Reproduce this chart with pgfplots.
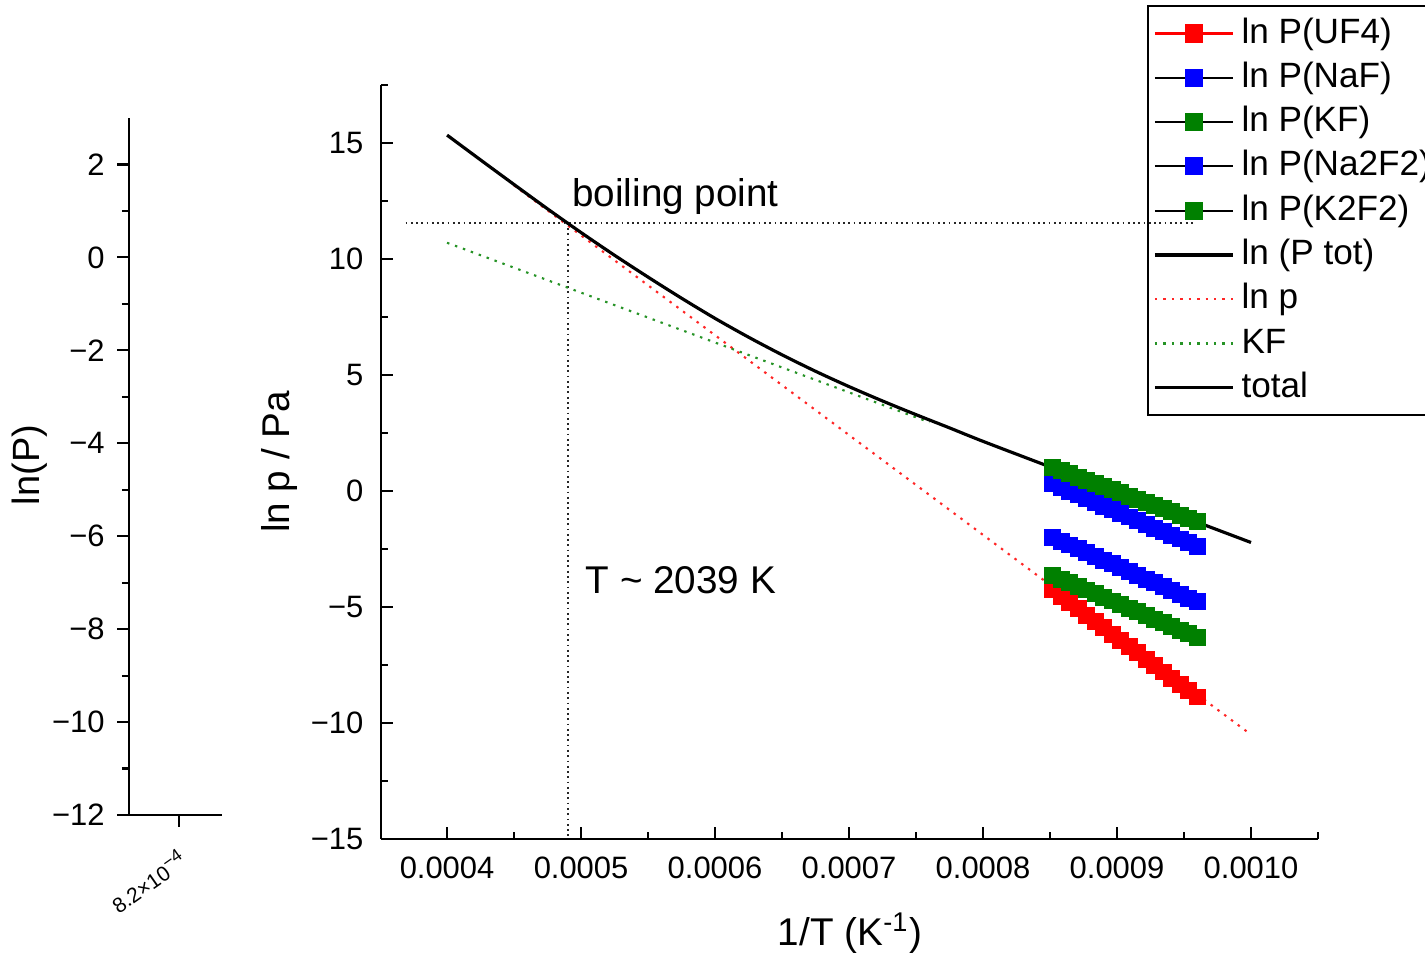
\documentclass[border=0pt]{standalone}
\usepackage{fontspec}
\setmainfont{Liberation Sans}
\usepackage{pgfplots}
\usepackage{pgfplotstable}
\pgfplotsset{compat=1.18}
\definecolor{ogreen}{RGB}{0,128,0}

\pgfplotstableread{
x uf4 naf kf na2f2 k2f2
0.0008520 -4.27 0.30 1.01 -2.00 -3.64
0.0008584 -4.54 0.14 0.87 -2.16 -3.80
0.0008647 -4.81 -0.02 0.74 -2.33 -3.95
0.0008711 -5.08 -0.17 0.60 -2.49 -4.11
0.0008774 -5.35 -0.33 0.46 -2.65 -4.27
0.0008838 -5.63 -0.49 0.33 -2.82 -4.43
0.0008901 -5.90 -0.65 0.19 -2.98 -4.58
0.0008965 -6.17 -0.81 0.05 -3.14 -4.74
0.0009028 -6.44 -0.97 -0.08 -3.31 -4.90
0.0009092 -6.71 -1.12 -0.22 -3.47 -5.05
0.0009155 -6.98 -1.28 -0.35 -3.64 -5.21
0.0009219 -7.25 -1.44 -0.49 -3.80 -5.37
0.0009282 -7.52 -1.60 -0.63 -3.96 -5.53
0.0009346 -7.80 -1.76 -0.76 -4.13 -5.68
0.0009409 -8.07 -1.92 -0.90 -4.29 -5.84
0.0009473 -8.34 -2.07 -1.04 -4.45 -6.00
0.0009536 -8.61 -2.23 -1.17 -4.62 -6.15
0.0009600 -8.88 -2.39 -1.31 -4.78 -6.31
}\markdata

\pgfplotstableread{
x y
0.000400 15.34
0.000425 14.27
0.000450 13.21
0.000475 12.16
0.000500 11.14
0.000525 10.16
0.000550 9.22
0.000575 8.31
0.000600 7.44
0.000625 6.63
0.000650 5.87
0.000675 5.16
0.000700 4.50
0.000725 3.88
0.000750 3.29
0.000775 2.72
0.000800 2.14
0.000850 1.04
0.000900 -0.05
0.000950 -1.13
0.001000 -2.22
}\totaldata

\begin{document}
\begin{tikzpicture}
\path[use as bounding box] (0,0) rectangle (14.25,-9.56);
\clip (0,0) rectangle (14.25,-9.56);

% small left axis
\begin{axis}[
  at={(1.29cm,-8.15cm)}, anchor=south west,
  scale only axis, width=0.93cm, height=6.97cm,
  xmin=0, xmax=1, ymin=-12, ymax=3,
  axis lines=left, axis line style={-, line width=0.7pt},
  tick align=outside, major tick length=3.4pt, minor tick length=2pt,
  tick style={black, line width=0.6pt},
  xtick={0.538}, xticklabels={8.2×10\textsuperscript{−4}},
  ytick={-12,-10,-8,-6,-4,-2,0,2}, yticklabels={−12,−10,−8,−6,−4,−2,0,2},
  minor ytick={-11,-9,-7,-5,-3,-1,1},
  ticklabel style={font=\fontsize{8.8}{10}\selectfont},
  xticklabel style={font=\fontsize{6}{7}\selectfont, rotate=35, anchor=north east, yshift=-1pt},
  ylabel={ln(P)},
  ylabel style={at={(axis description cs:-1.065,0.502)}, anchor=center, font=\fontsize{10.8}{12}\selectfont},
]
\addplot[draw=none, forget plot] coordinates {(0.5,-20)};
\end{axis}

% main axis
\begin{axis}[
  at={(3.81cm,-8.39cm)}, anchor=south west,
  scale only axis, width=9.37cm, height=7.54cm,
  xmin=0.0003507, xmax=0.00105, ymin=-15, ymax=17.5,
  axis lines=left, axis line style={-, line width=0.7pt},
  tick align=inside, major tick length=3.4pt, minor tick length=2pt,
  tick style={black, line width=0.6pt},
  scaled x ticks=false,
  xtick={0.0004,0.0005,0.0006,0.0007,0.0008,0.0009,0.0010},
  xticklabels={0.0004,0.0005,0.0006,0.0007,0.0008,0.0009,0.0010},
  minor xtick={0.00035,0.00045,0.00055,0.00065,0.00075,0.00085,0.00095,0.00105},
  ytick={-15,-10,-5,0,5,10,15}, yticklabels={−15,−10,−5,0,5,10,15},
  minor ytick={-12.5,-7.5,-2.5,2.5,7.5,12.5,17.5},
  ticklabel style={font=\fontsize{8.8}{10}\selectfont},
  yticklabel style={xshift=-1.5pt},
  xticklabel style={yshift=-1.5pt},
  xlabel={1/T (K\textsuperscript{-1})},
  xlabel style={at={(axis description cs:0.5005,-0.1247)}, anchor=center, font=\fontsize{11}{13}\selectfont},
  ylabel={ln p / Pa},
  ylabel style={at={(axis description cs:-0.108,0.5)}, anchor=center, font=\fontsize{11}{13}\selectfont},
  legend image code/.code={\draw[#1] (0cm,0cm) -- (0.78cm,0cm);},
  legend cell align=left,
  legend style={at={(axis description cs:0.8175,1.106)}, anchor=north west,
    draw=black, fill=none, line width=0.6pt, inner sep=1.5pt, row sep=0pt,
    font=\fontsize{10}{12}\selectfont,
    nodes={inner sep=1.2pt, text height=7.8pt, text depth=2.4pt},
    /tikz/every odd column/.append style={column sep=0.8pt}},
]
\addplot[forget plot, black!85, densely dotted, line width=0.5pt] coordinates {(0.000369,11.56) (0.000957,11.56)};
\addplot[forget plot, black!85, densely dotted, line width=0.5pt] coordinates {(0.00049,11.56) (0.00049,-15)};

\addplot[only marks, mark=square*, color=red, mark size=2.2pt,
  legend image code/.code={\draw[red,line width=0.6pt] (0cm,0cm)--(0.78cm,0cm); \fill[red] (0.31cm,-0.08cm) rectangle (0.47cm,0.08cm);}]
  table[x=x,y=uf4]{\markdata};
\addlegendentry{ln P(UF4)}
\addplot[only marks, mark=square*, color=blue, mark size=2.2pt,
  legend image code/.code={\draw[black,line width=0.6pt] (0cm,0cm)--(0.78cm,0cm); \fill[blue] (0.31cm,-0.08cm) rectangle (0.47cm,0.08cm);}]
  table[x=x,y=naf]{\markdata};
\addlegendentry{ln P(NaF)}
\addplot[only marks, mark=square*, color=ogreen, mark size=2.2pt,
  legend image code/.code={\draw[black,line width=0.6pt] (0cm,0cm)--(0.78cm,0cm); \fill[ogreen] (0.31cm,-0.08cm) rectangle (0.47cm,0.08cm);}]
  table[x=x,y=kf]{\markdata};
\addlegendentry{ln P(KF)}
\addplot[only marks, mark=square*, color=blue, mark size=2.2pt,
  legend image code/.code={\draw[black,line width=0.6pt] (0cm,0cm)--(0.78cm,0cm); \fill[blue] (0.31cm,-0.08cm) rectangle (0.47cm,0.08cm);}]
  table[x=x,y=na2f2]{\markdata};
\addlegendentry{ln P(Na2F2)}
\addplot[only marks, mark=square*, color=ogreen, mark size=2.2pt,
  legend image code/.code={\draw[black,line width=0.6pt] (0cm,0cm)--(0.78cm,0cm); \fill[ogreen] (0.31cm,-0.08cm) rectangle (0.47cm,0.08cm);}]
  table[x=x,y=k2f2]{\markdata};
\addlegendentry{ln P(K2F2)}

\addplot[black, line width=0.9pt] coordinates {(0.00085,1.04) (0.0009,-0.05) (0.00096,-1.35)};
\addlegendentry{ln (P tot)}
\addplot[red!85, dash pattern=on 0.7pt off 1.7pt, line width=0.6pt] coordinates {(0.00045,13.17) (0.001,-10.5)};
\addlegendentry{ln p}
\addplot[ogreen!85, dash pattern=on 0.7pt off 1.7pt, line width=0.6pt] coordinates {(0.0004,10.70) (0.00076,2.96)};
\addlegendentry{KF}
\addplot[black, line width=0.9pt, smooth] table[x=x,y=y]{\totaldata};
\addlegendentry{total}

\node[anchor=base west, font=\fontsize{11}{13}\selectfont, inner sep=0pt] at (axis cs:0.000493,12.25) {boiling point};
\node[anchor=base west, font=\fontsize{11}{13}\selectfont, inner sep=0pt] at (axis cs:0.000503,-4.41) {T \textasciitilde{} 2039 K};
\end{axis}
\end{tikzpicture}
\end{document}
